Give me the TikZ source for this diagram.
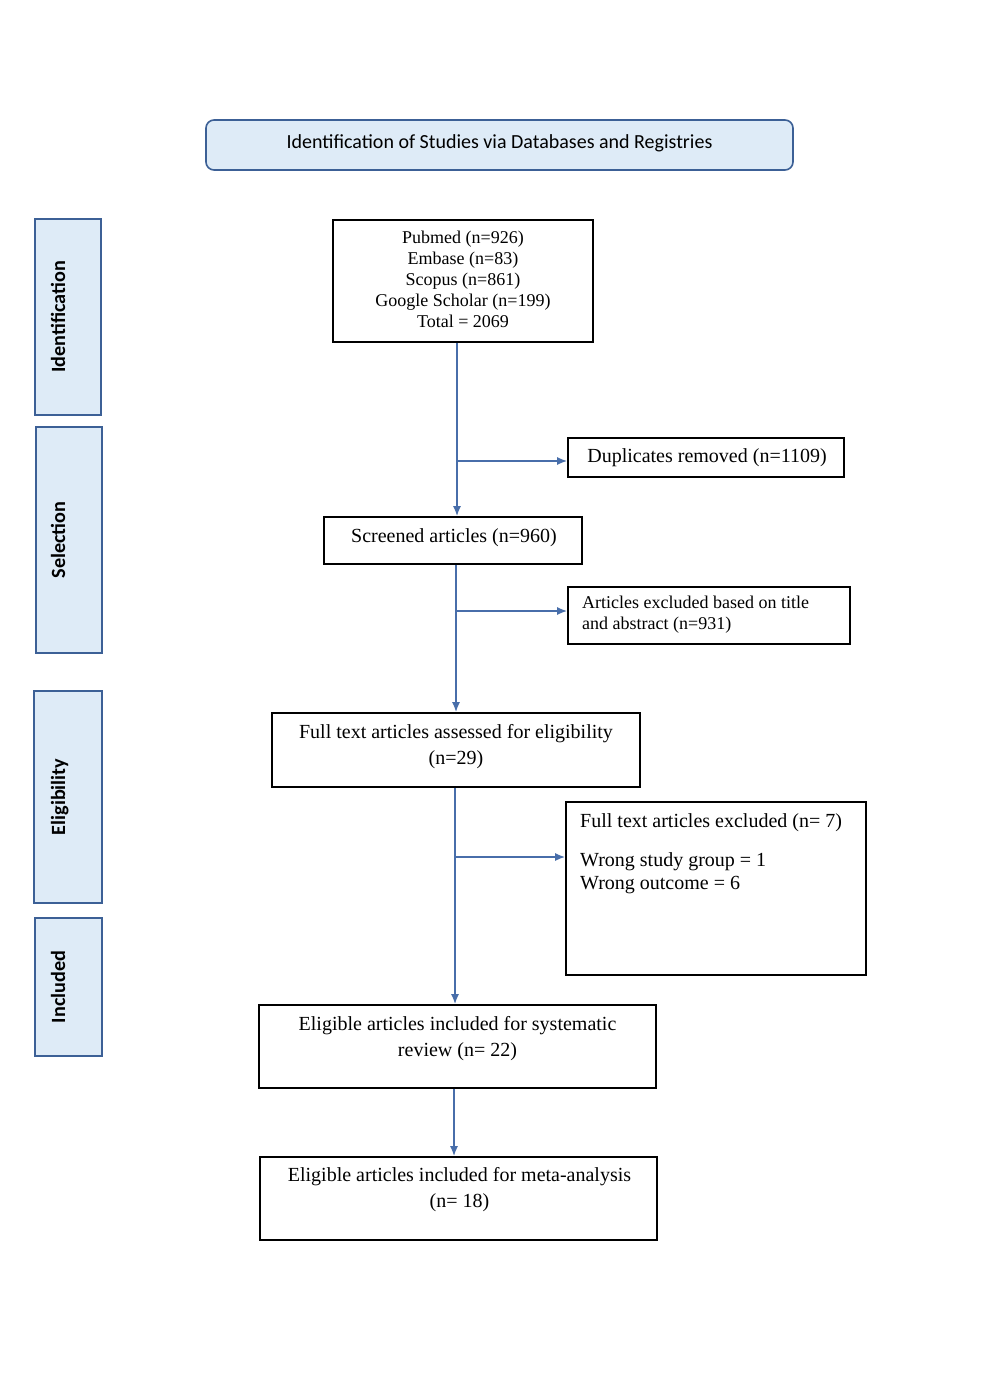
\documentclass[tikz,border=0pt]{standalone}
\usepackage{fontspec}
\setmainfont{Liberation Serif}
\newfontfamily\calfont{Carlito}
\usetikzlibrary{arrows.meta}
\definecolor{hdrfill}{RGB}{222,235,247}
\definecolor{hdrline}{RGB}{60,96,150}
\definecolor{arrowc}{RGB}{72,110,170}
\begin{document}
\begin{tikzpicture}[x=1pt,y=-1pt,
  box/.style={draw=black, line width=1.6pt, inner sep=0pt},
  hdrbox/.style={draw=hdrline, fill=hdrfill, line width=1.6pt, rounded corners=8pt, inner sep=0pt},
  sidebox/.style={draw=hdrline, fill=hdrfill, line width=1.6pt, inner sep=0pt},
  sidetxt/.style={rotate=90, anchor=base, inner sep=0pt, font=\calfont\bfseries\fontsize{20.2}{23}\selectfont},
  txt/.style={inner sep=0pt, align=center, font=\fontsize{20}{23}\selectfont},
  txts/.style={inner sep=0pt, align=center, font=\fontsize{18}{21}\selectfont},
  txtb/.style={inner sep=0pt, align=center, font=\fontsize{20}{26}\selectfont},
  txtl/.style={inner sep=0pt, align=left, font=\fontsize{18}{21}\selectfont},
  arr/.style={draw=arrowc, line width=1.7pt, -{Latex[length=10pt,width=8pt]}}
]
\useasboundingbox (0,0) rectangle (986,1396);
\fill[white] (0,0) rectangle (986,1396);

% header
\node[hdrbox, minimum width=587pt, minimum height=50pt] (hdr) at (499.5,145) {};
\node[inner sep=0pt, font=\calfont\fontsize{20}{24}\selectfont] (hdrt) at (499.5,143)
  {Identification of Studies via Databases and Registries};

% side boxes
\node[sidebox, minimum width=66pt, minimum height=196pt] (sid1) at (68,317) {};
\node[sidetxt] (sidt1) at (65,317) {Identification};
\node[sidebox, minimum width=66pt, minimum height=226pt] (sid2) at (69,540) {};
\node[sidetxt] (sidt2) at (65,540) {Selection};
\node[sidebox, minimum width=68pt, minimum height=212pt] (sid3) at (68,797) {};
\node[sidetxt] (sidt3) at (65,797) {Eligibility};
\node[sidebox, minimum width=67pt, minimum height=138pt] (sid4) at (68.5,987) {};
\node[sidetxt] (sidt4) at (65,987) {Included};

% main boxes
\node[box, minimum width=260pt, minimum height=122pt] (src) at (463,281) {};
\node[txts] (srct) at (463,279) {Pubmed (n=926)\\Embase (n=83)\\Scopus (n=861)\\Google Scholar (n=199)\\Total = 2069};

\node[box, minimum width=276pt, minimum height=39pt] (dup) at (706,457.5) {};
\node[txt] (dupt) at (707,458) {Duplicates removed (n=1109)};

\node[box, minimum width=258pt, minimum height=47pt] (scr) at (453,540.5) {};
\node[txt] (scrt) at (454,538) {Screened articles (n=960)};

\node[box, minimum width=282pt, minimum height=57pt] (exta) at (709,615.5) {};
\node[txtl, anchor=west] (extat) at (582,614.5) {Articles excluded based on title\\and abstract (n=931)};

\node[box, minimum width=368pt, minimum height=74pt] (fta) at (456,750) {};
\node[txtb] (ftat) at (456,746.5) {Full text articles assessed for eligibility\\(n=29)};

\node[box, minimum width=300pt, minimum height=173pt] (exft) at (716,888.5) {};
\node[inner sep=0pt, align=left, font=\fontsize{20}{23}\selectfont, anchor=north west] (exftt) at (580,813)
  {Full text articles excluded (n= 7)\\[16pt]Wrong study group = 1\\Wrong outcome = 6};

\node[box, minimum width=397pt, minimum height=83pt] (elig) at (457.5,1046.5) {};
\node[txtb] (eligt) at (457.5,1039) {Eligible articles included for systematic\\review (n= 22)};

\node[box, minimum width=397pt, minimum height=83pt] (meta) at (458.5,1198.5) {};
\node[txtb] (metat) at (459.5,1190) {Eligible articles included for meta-analysis\\(n= 18)};

% connector guides
\coordinate (c1) at (457,0);
\coordinate (c2) at (456,0);
\coordinate (c3) at (455,0);
\coordinate (c4) at (454,0);
\coordinate (b1) at (0,461);
\coordinate (b2) at (0,611);
\coordinate (b3) at (0,857);

\draw[arr] (src.south -| c1) -- (scr.north -| c1);
\draw[arr] (c1 |- b1) -- (dup.west |- b1);
\draw[arr] (scr.south -| c2) -- (fta.north -| c2);
\draw[arr] (c2 |- b2) -- (exta.west |- b2);
\draw[arr] (fta.south -| c3) -- (elig.north -| c3);
\draw[arr] (c3 |- b3) -- (exft.west |- b3);
\draw[arr] (elig.south -| c4) -- (meta.north -| c4);
\end{tikzpicture}
\end{document}
